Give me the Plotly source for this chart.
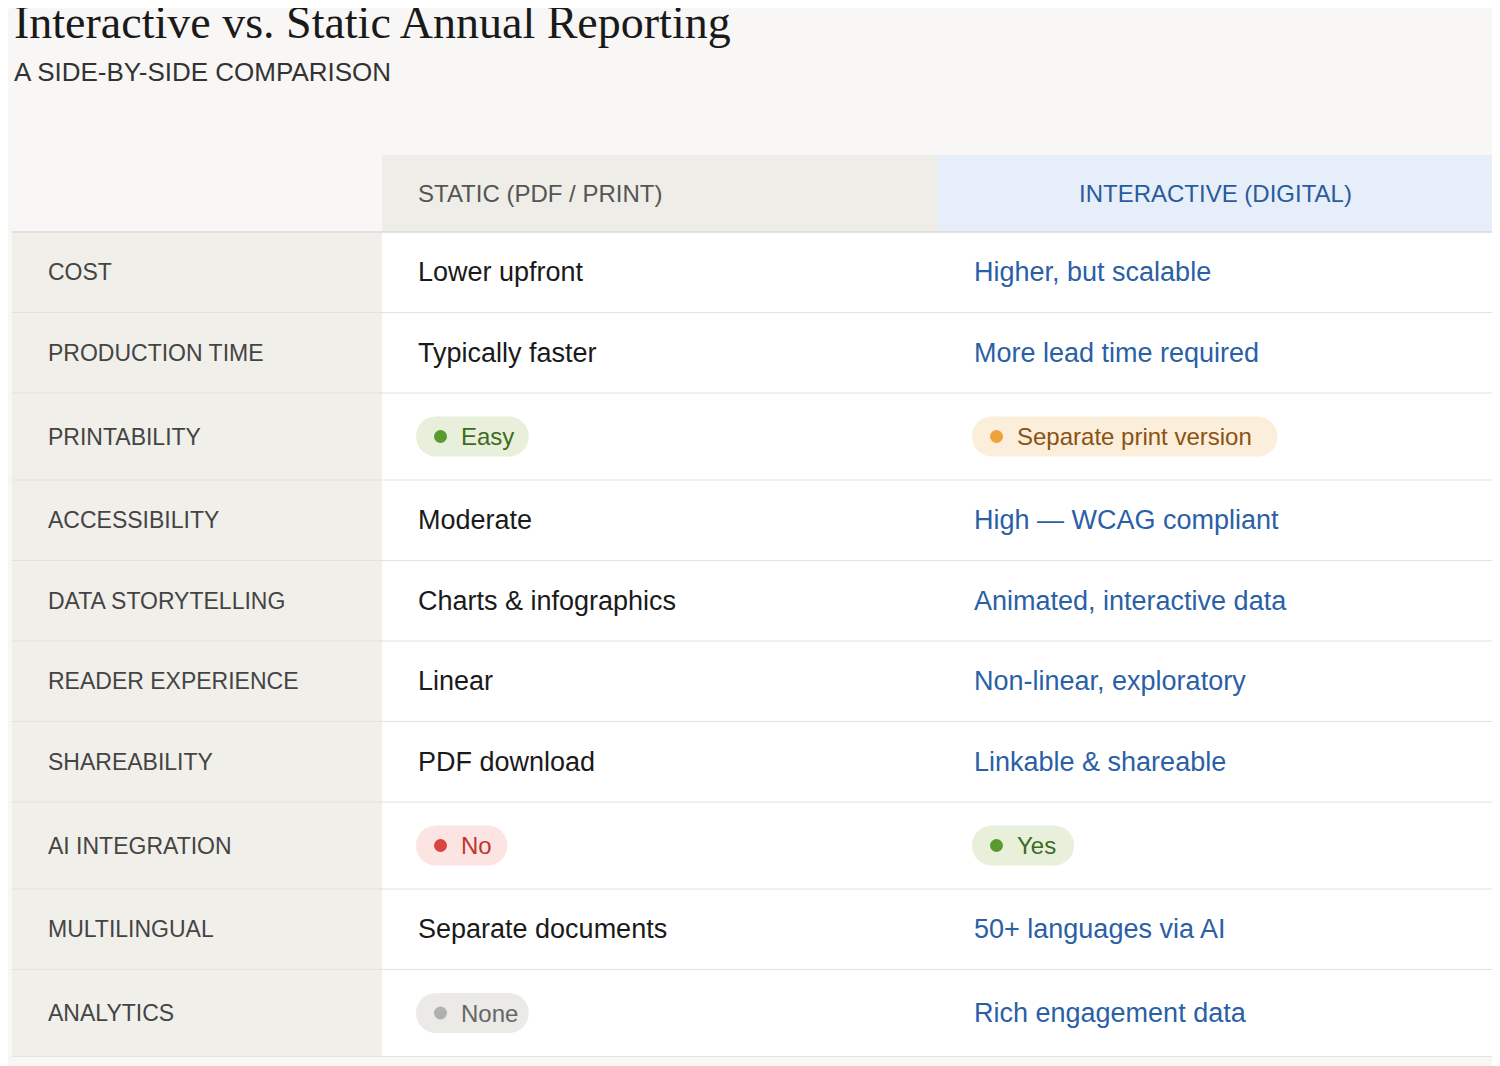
import plotly.graph_objects as go

# table content
features = ["COST", "PRODUCTION TIME", "PRINTABILITY", "ACCESSIBILITY", "DATA STORYTELLING",
            "READER EXPERIENCE", "SHAREABILITY", "AI INTEGRATION", "MULTILINGUAL", "ANALYTICS"]
static_vals = ["Lower upfront", "Typically faster", "Easy", "Moderate", "Charts & infographics",
               "Linear", "PDF download", "No", "Separate documents", "None"]
interactive_vals = ["Higher, but scalable", "More lead time required", "Separate print version",
                    "High — WCAG compliant", "Animated, interactive data", "Non-linear, exploratory",
                    "Linkable & shareable", "Yes", "50+ languages via AI", "Rich engagement data"]
# pill style per cell: None = plain text
static_pills = [None, None, "green", None, None, None, None, "red", None, "gray"]
interactive_pills = [None, None, "orange", None, None, None, None, "green", None, None]

pill_styles = {
    "green": ("#e8f0dc", "#5b9a2f", "#3f6b1e"),
    "orange": ("#fbeedb", "#eea23a", "#8a5313"),
    "red": ("#fbe4e2", "#d9443f", "#c2352f"),
    "gray": ("#ebeae7", "#b0b0ae", "#666666"),
}

W, H = 1500, 1066
off = 8  # page body margin
x0, x1, x2, x3 = 12, 382, 938, 1493
head_top, head_bot = 155, 232
row_h, pill_row_h = 80.5, 87
FONT = "Helvetica, Arial, sans-serif"

fig = go.Figure()
shapes, ann = [], []

def rect(xa, ya, xb, yb, fill):
    shapes.append(dict(type="rect", x0=xa, x1=xb, y0=ya, y1=yb, fillcolor=fill,
                       line=dict(width=0), layer="below"))

# header
rect(x1, head_top, x2, head_bot, "#efede8")
rect(x2, head_top, x3, head_bot, "#e5eef9")
ann.append(dict(x=x1 + 34, y=(head_top + head_bot) / 2, text="STATIC (PDF / PRINT)", xanchor="left",
                font=dict(size=24, color="#555555", family=FONT)))
ann.append(dict(x=(x2 + x3) / 2, y=(head_top + head_bot) / 2, text="INTERACTIVE (DIGITAL)", xanchor="center",
                font=dict(size=24, color="#2a5b9c", family=FONT)))
shapes.append(dict(type="line", x0=x0, x1=x3, y0=head_bot, y1=head_bot, line=dict(color="#dcdad5", width=1.5)))

def pill(x, y, text, style):
    bg, dot, fg = pill_styles[style]
    w = 70 + 10.7 * len(text)
    r = 20
    rect(x + r, y - r, x + w - r, y + r, bg)
    for cx in (x + r, x + w - r):
        shapes.append(dict(type="circle", x0=cx - r, x1=cx + r, y0=y - r, y1=y + r,
                           fillcolor=bg, line=dict(width=0), layer="below"))
    shapes.append(dict(type="circle", x0=x + 18, x1=x + 31, y0=y - 6.5, y1=y + 6.5,
                       fillcolor=dot, line=dict(width=0)))
    ann.append(dict(x=x + 43, y=y, text=text, xanchor="left",
                    font=dict(size=24, color=fg, family=FONT)))

y = head_bot
for i, feat in enumerate(features):
    h = pill_row_h if (static_pills[i] or interactive_pills[i]) else row_h
    yc = y + h / 2
    rect(x0, y, x1, y + h, "#f1efea")
    rect(x1, y, x3, y + h, "#ffffff")
    shapes.append(dict(type="line", x0=x0, x1=x3, y0=y + h, y1=y + h, line=dict(color="#e4e2de", width=1.2)))
    ann.append(dict(x=x0 + 34, y=yc, text=feat, xanchor="left",
                    font=dict(size=23, color="#444444", family=FONT)))
    if static_pills[i]:
        pill(x1 + 34, yc, static_vals[i], static_pills[i])
    else:
        ann.append(dict(x=x1 + 34, y=yc, text=static_vals[i], xanchor="left",
                        font=dict(size=27, color="#1a1a1a", family=FONT)))
    if interactive_pills[i]:
        pill(x2 + 34, yc, interactive_vals[i], interactive_pills[i])
    else:
        ann.append(dict(x=x2 + 34, y=yc, text=interactive_vals[i], xanchor="left",
                        font=dict(size=27, color="#2b5fa6", family=FONT)))
    y += h

ann.append(dict(x=12, y=22, text="Interactive vs. Static Annual Reporting", xanchor="left",
                font=dict(size=46, color="#1a1a1a", family="Liberation Serif, Times New Roman, serif")))
ann.append(dict(x=12, y=72, text="A SIDE-BY-SIDE COMPARISON", xanchor="left",
                font=dict(size=26, color="#333333", family=FONT)))
for a in ann:
    a.update(xref="x", yref="y", showarrow=False, yanchor="middle")

fig.update_layout(width=W - off, height=H - off, margin=dict(l=0, r=0, t=0, b=0),
                  paper_bgcolor="#f8f7f5", plot_bgcolor="#f8f7f5",
                  shapes=shapes, annotations=ann, showlegend=False,
                  xaxis=dict(range=[off, W], visible=False, fixedrange=True),
                  yaxis=dict(range=[H, off], visible=False, fixedrange=True))
fig.write_html("out.html", config={"displayModeBar": False})
